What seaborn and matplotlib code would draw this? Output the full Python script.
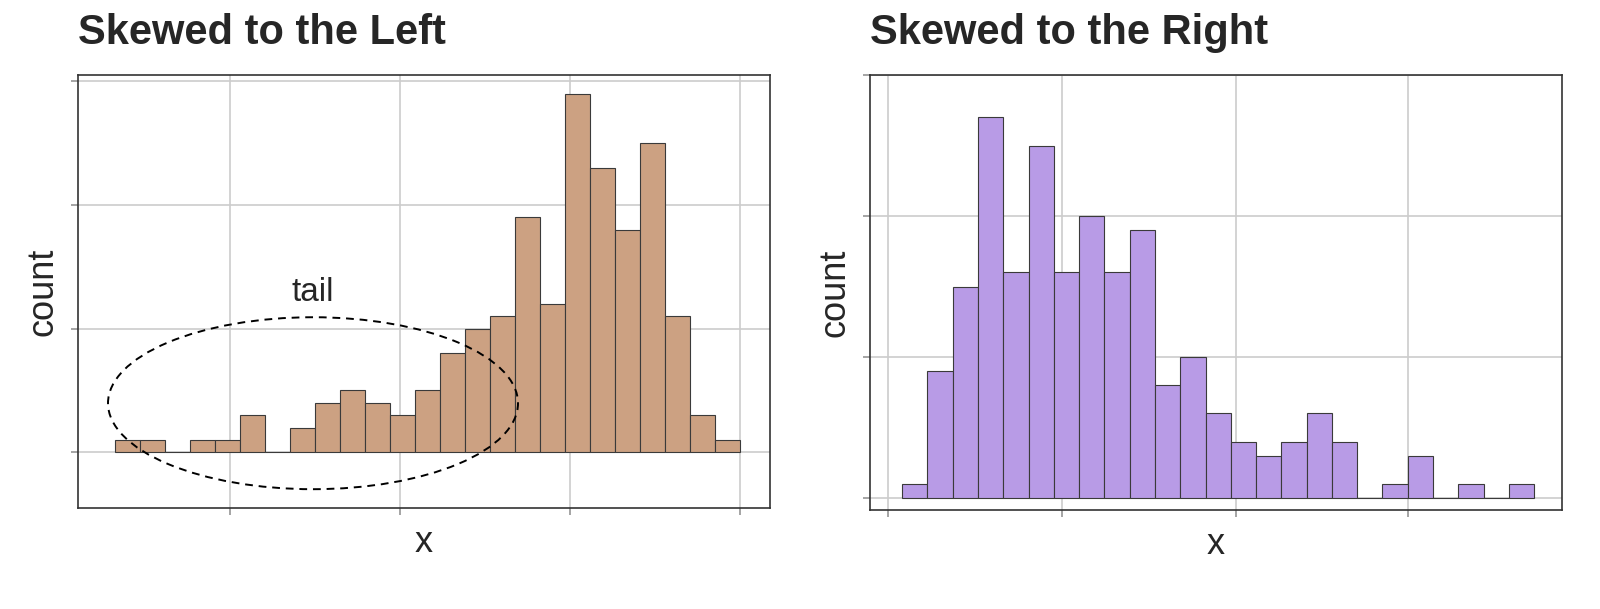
import numpy as np
import pandas as pd
import matplotlib
matplotlib.use("Agg")
import matplotlib.pyplot as plt
from matplotlib.patches import Ellipse
import seaborn as sns

# bin counts, one per bin (25 equal-width bins each)
left_counts = [1, 1, 0, 1, 1, 3, 0, 2, 4, 5, 4, 3, 5, 8, 10, 11, 19, 12, 29, 23, 18, 25, 11, 3, 1]
right_counts = [1, 9, 15, 27, 16, 25, 16, 20, 16, 19, 8, 10, 6, 4, 3, 4, 6, 4, 0, 1, 3, 0, 1, 0, 1]
left_ticks = [4.6, 11.4, 18.2, 25.0]
right_ticks = [-0.55, 6.34, 13.2, 20.0]
count_ticks = [0, 10, 20, 30]

sns.set_theme(style="white")
plt.rcParams["font.family"] = ["Liberation Sans", "DejaVu Sans"]

fig = plt.figure(figsize=(16, 6.09), dpi=100)
ax1 = fig.add_axes([78 / 1600, 1 - 508 / 609, 692 / 1600, 433 / 609])
ax2 = fig.add_axes([870 / 1600, 1 - 510 / 609, 692 / 1600, 435 / 609])


def draw(ax, counts, color, ticks, xlim, ylim, title):
    n = len(counts)
    df = pd.DataFrame({"x": np.arange(n) + 0.5, "count": counts})
    sns.histplot(data=df, x="x", weights="count", binwidth=1, binrange=(0, n), ax=ax,
                 color=color, alpha=1, edgecolor="#3a3a3a", linewidth=0.8, zorder=2)
    ax.set_xlim(*xlim)
    ax.set_ylim(*ylim)
    ax.set_xticks(ticks)
    ax.set_yticks(count_ticks)
    ax.set_xticklabels([])
    ax.set_yticklabels([])
    ax.grid(True, color="#cccccc", linewidth=1.2, zorder=0)
    ax.set_axisbelow(True)
    ax.tick_params(axis="both", length=5, color="#999999", direction="out",
                   bottom=True, left=True)
    for s in ax.spines.values():
        s.set_color("#333333")
        s.set_linewidth(1.2)
    ax.set_xlabel("x", fontsize=26)
    ax.set_ylabel("count", fontsize=26)
    ax.set_title(title, fontsize=30, fontweight="bold", loc="left", pad=22, x=0)


draw(ax1, left_counts, "#cca182", left_ticks, (-1.48, 26.2), (-4.5, 30.5), "Skewed to the Left")
draw(ax2, right_counts, "#b89be6", right_ticks, (-1.27, 26.1), (-0.85, 28.4), "Skewed to the Right")

ax1.add_patch(Ellipse((7.92, 3.97), 16.4, 13.9, fill=False, linestyle=(0, (4, 3)),
                      edgecolor="black", linewidth=1.4, zorder=3))
ax1.text(7.92, 12.9, "tail", fontsize=24, ha="center", va="center")

fig.savefig("out.png", dpi=100)
